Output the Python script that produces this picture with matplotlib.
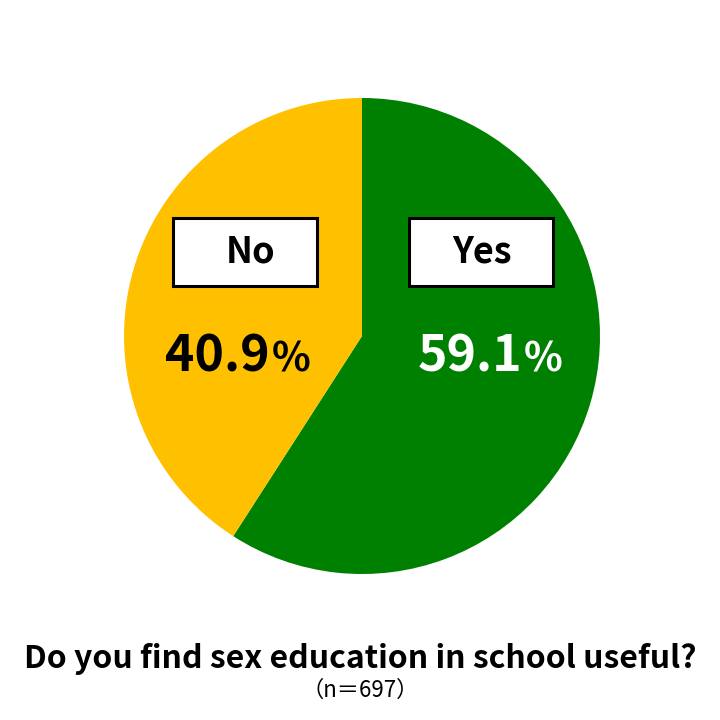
import matplotlib.pyplot as plt
from matplotlib.patches import Rectangle

plt.rcParams['font.family'] = ['Noto Sans CJK JP', 'DejaVu Sans']

# Data
labels = ['Yes', 'No']
shares = [59.1, 40.9]
colors = ['#008000', '#FFC000']
pct_colors = ['white', 'black']
title = 'Do you find sex education in school useful?'
sample = '（n＝697）'

# Layout in pixel units (y measured upward)
W = H = 720
cx, cy, r = 362, H - 336, 238
box_centers = [(481, H - 252), (245, H - 252)]
text_shift = [1, 6]
pct_pos = [(522, H - 372), (270, H - 372)]

fig = plt.figure(figsize=(7.2, 7.2), dpi=100)
ax = fig.add_axes([0, 0, 1, 1])

ax.pie(shares, colors=colors, startangle=90, counterclock=False,
       center=(cx, cy), radius=r, frame=True)
ax.set_xlim(0, W)
ax.set_ylim(0, H)
ax.axis('off')

for lab, (bx, by), dx in zip(labels, box_centers, text_shift):
    ax.add_patch(Rectangle((bx - 72, by - 34), 144, 68, facecolor='white',
                           edgecolor='black', linewidth=2.2, zorder=3))
    ax.text(bx + dx, by, lab, ha='center', va='center', fontsize=26,
            fontweight='bold', zorder=4)

for val, col, (px, py) in zip(shares, pct_colors, pct_pos):
    ax.text(px, py, f'{val:.1f}', ha='right', va='baseline', fontsize=36,
            fontweight='bold', color=col, zorder=4)
    ax.text(px + 2, py, '%', ha='left', va='baseline', fontsize=29,
            fontweight='bold', color=col, zorder=4)

ax.text(360, H - 668, title, ha='center', va='baseline', fontsize=23,
        fontweight='bold')
ax.text(360, H - 697, sample, ha='center', va='baseline', fontsize=16)

fig.savefig('out.png', dpi=100)
